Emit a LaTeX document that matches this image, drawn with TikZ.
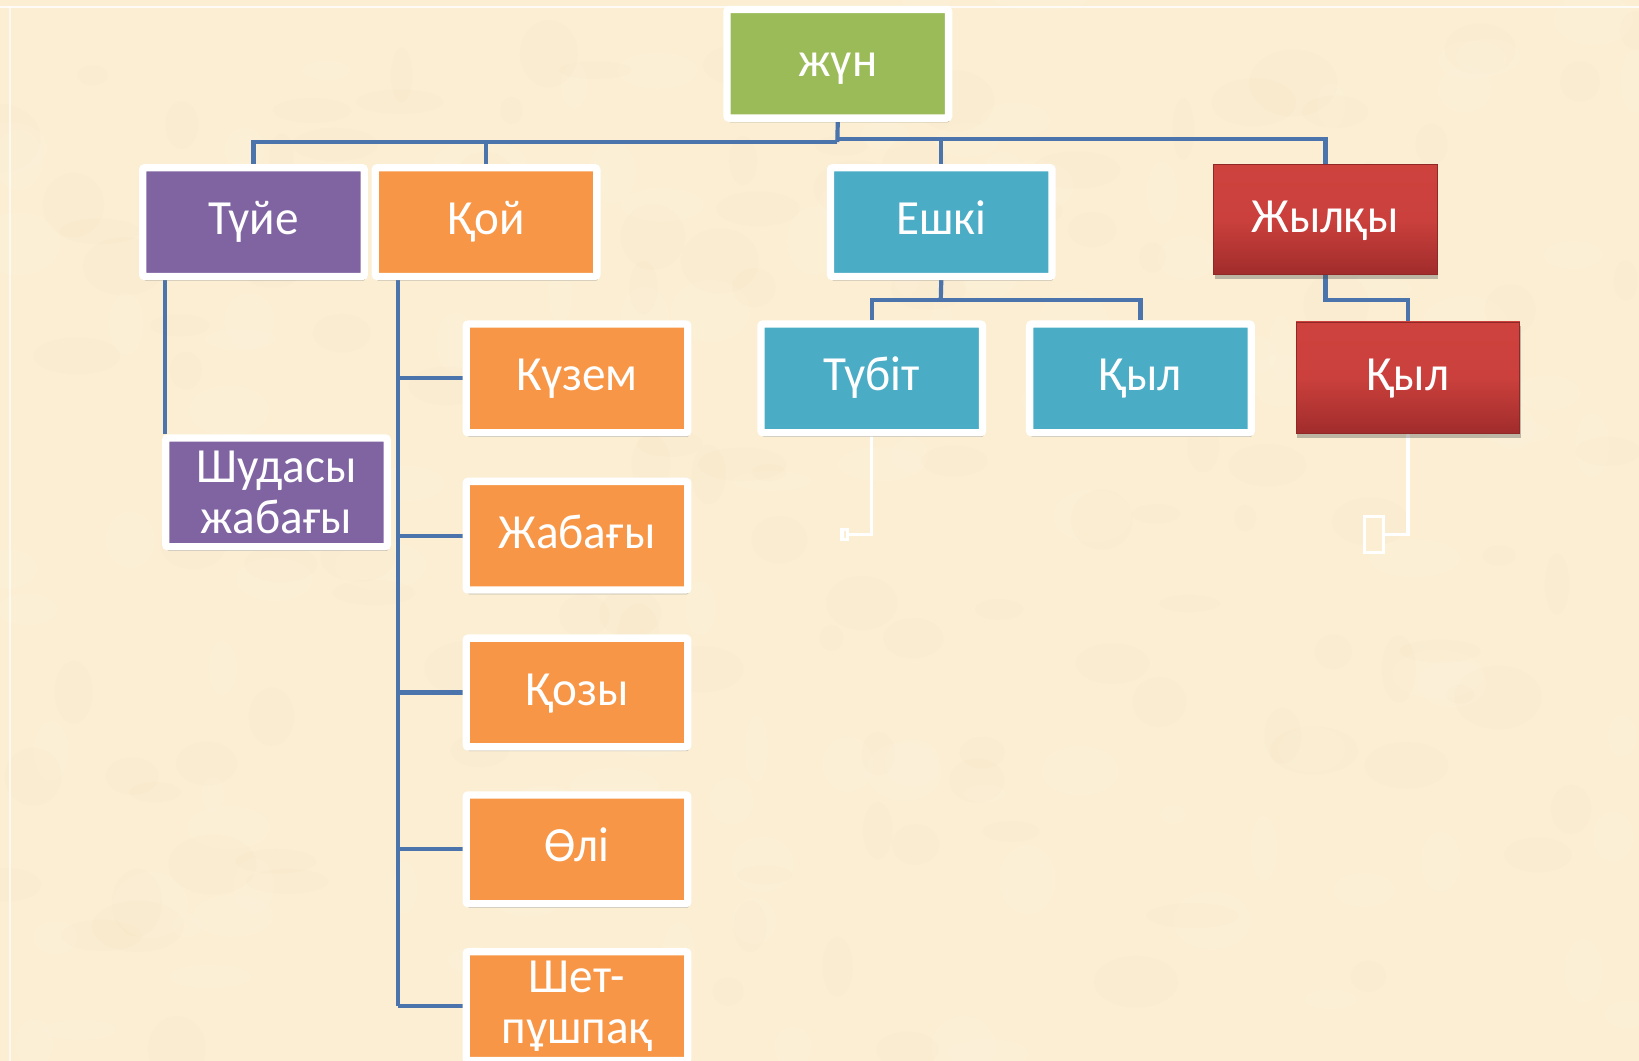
\documentclass[tikz,border=0pt]{standalone}
\usepackage{fontspec}
\setmainfont{Carlito}[FakeStretch=0.96]
\usetikzlibrary{shadows,calc}
\definecolor{bgc}{HTML}{FBEED3}
\definecolor{bgdark}{HTML}{F3DDB4}
\definecolor{bglight}{HTML}{FFF7E6}
\definecolor{cgreen}{HTML}{9BBB59}
\definecolor{cpurple}{HTML}{8064A2}
\definecolor{corange}{HTML}{F79646}
\definecolor{cblue}{HTML}{4BACC6}
\definecolor{credtop}{HTML}{CE423E}
\definecolor{credbot}{HTML}{A02C2B}
\definecolor{cline}{HTML}{4A74AB}
\pgfdeclarelayer{back}
\pgfdeclarelayer{lines}
\pgfsetlayers{back,lines,main}
\tikzset{
  basebox/.style={rectangle, inner sep=0pt,
    text=white, font=\fontsize{47}{49}\selectfont, align=center,
    drop shadow={shadow xshift=1pt, shadow yshift=-4pt, opacity=0.35, fill=black!70}},
  box/.style={basebox, draw=white, line width=7pt, rounded corners=2pt,
    minimum width=212pt, minimum height=104pt},
  redbox/.style={basebox, draw=credbot!90!black, line width=0.8pt,
    minimum width=214pt, minimum height=106pt,
    top color=credtop, bottom color=credbot, middle color=credtop!92!credbot},
  oneline/.style={text height=33pt, text depth=9pt},
  conn/.style={draw=cline, line width=4pt},
  wconn/.style={draw=white, line width=3pt},
  ph/.style={rectangle, draw=white, line width=3pt, inner sep=0pt, fill=bgc}
}
\begin{document}
\begin{tikzpicture}[x=1pt,y=-1pt]
\useasboundingbox (0,0) rectangle (1568,1015);
\begin{pgfonlayer}{back}
\fill[bgc] (0,0) rectangle (1568,1015);
\pgfmathsetseed{7}
\foreach \i in {1,...,260}{
  \pgfmathsetmacro{\px}{rnd*1568}
  \pgfmathsetmacro{\py}{rnd*1015}
  \pgfmathsetmacro{\rx}{10+rnd*35}
  \pgfmathsetmacro{\ry}{8+rnd*25}
  \pgfmathsetmacro{\cc}{rnd}
  \ifdim\cc pt<0.5pt
    \fill[bgdark, opacity=0.09] (\px,\py) ellipse [x radius=\rx, y radius=\ry];
  \else
    \fill[bglight, opacity=0.15] (\px,\py) ellipse [x radius=\rx, y radius=\ry];
  \fi
}
\draw[white, line width=2pt, opacity=0.8] (0,7) -- (1568,7);
\draw[white, line width=2pt, opacity=0.6] (10,7) -- (10,1015);
\end{pgfonlayer}

\node[box, oneline, fill=cgreen] (zhun) at (801.5,61) {жүн};
\node[box, oneline, fill=cpurple] (tuie) at (242.5,212.5) {Түйе};
\node[box, oneline, fill=corange] (koi) at (465,212.5) {Қой};
\node[box, oneline, fill=cblue] (eshki) at (900.5,212.5) {Ешкі};
\node[redbox, oneline] (zhylky) at (1268,210) {Жылқы};
\node[box, oneline, fill=corange] (kuzem) at (552,362) {Күзем};
\node[box, oneline, fill=corange] (zhabagy) at (552,512.5) {Жабағы};
\node[box, oneline, fill=corange] (kozy) at (552,662.5) {Қозы};
\node[box, oneline, fill=corange] (oli) at (552,812.5) {Өлі};
\node[box, fill=corange] (shet) at (552,962.5) {Шет-\\пұшпақ};
\node[box, fill=cpurple] (shudasy) at (264.5,471) {Шудасы\\жабағы};
\node[box, oneline, fill=cblue] (tubit) at (834,362) {Түбіт};
\node[box, oneline, fill=cblue] (kyl1) at (1091,362) {Қыл};
\node[redbox, oneline, minimum height=107pt] (kyl2) at (1347,361.5) {Қыл};
\node[ph, minimum width=5pt, minimum height=10pt] (p1) at (808,511.5) {};
\node[ph, minimum width=18pt, minimum height=34pt] (p2) at (1314.5,511.5) {};

\coordinate (busL) at (801,136);
\coordinate (busR) at (801,133);
\coordinate (tl) at (158,0);
\coordinate (ql) at (381,0);
\coordinate (ebus) at (900,287);
\coordinate (zbus) at (1268,287);

\begin{pgfonlayer}{lines}
\draw[conn] (zhun.south) -- (busL);
\draw[conn] (busL) -| (tuie.north);
\draw[conn] (busL) -| (koi.north);
\draw[conn] (busR) -| (eshki.north);
\draw[conn] (busR) -| (zhylky.north);
\draw[conn] (tuie.south -| tl) -- (shudasy.north -| tl);
\draw[conn] (koi.south -| ql) -- (ql |- shet.west);
\draw[conn] (ql |- kuzem.west) -- (kuzem.west);
\draw[conn] (ql |- zhabagy.west) -- (zhabagy.west);
\draw[conn] (ql |- kozy.west) -- (kozy.west);
\draw[conn] (ql |- oli.west) -- (oli.west);
\draw[conn] (ql |- shet.west) -- (shet.west);
\draw[conn] (eshki.south) -- (ebus);
\draw[conn] (ebus) -| (tubit.north);
\draw[conn] (ebus) -| (kyl1.north);
\draw[conn] (zhylky.south) -- (zbus) -| (kyl2.north);
\draw[wconn] (tubit.south) |- (p1.east);
\draw[wconn] (kyl2.south) |- (p2.east);
\end{pgfonlayer}
\end{tikzpicture}
\end{document}
